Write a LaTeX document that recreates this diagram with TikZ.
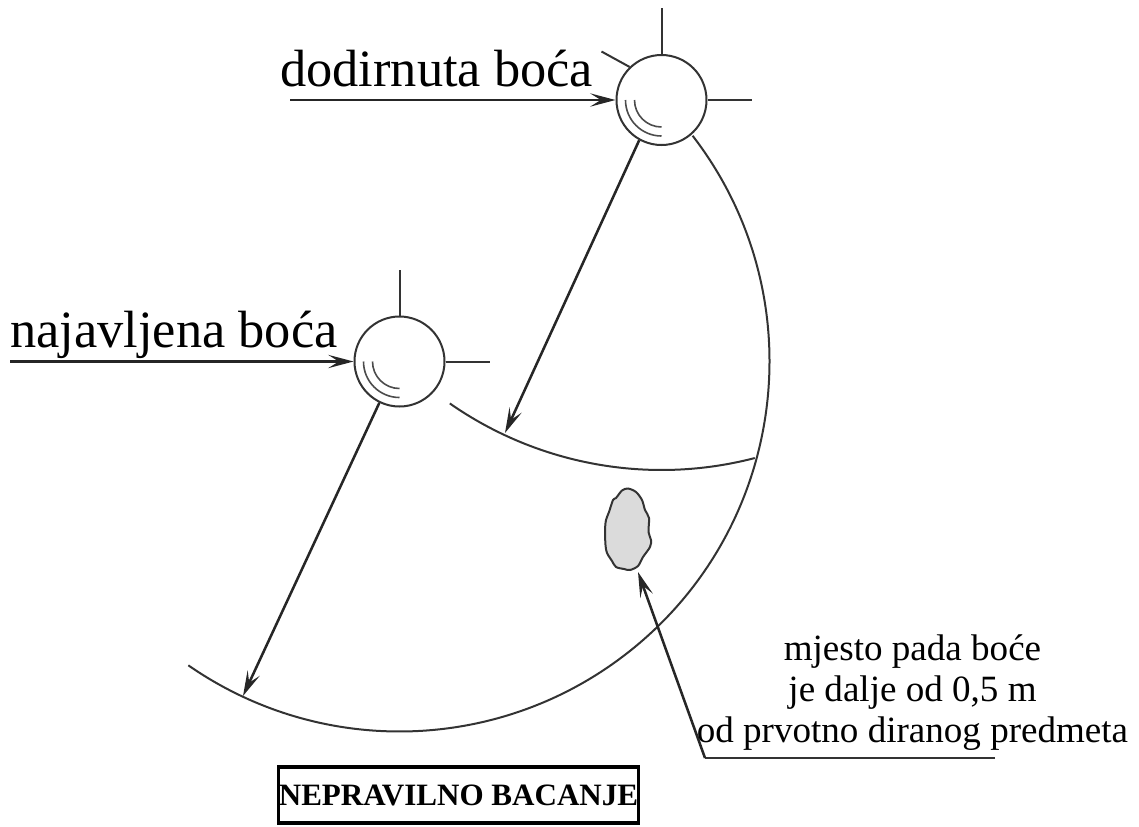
\documentclass[tikz,border=0pt]{standalone}
\usepackage{fontspec}
\setmainfont{Liberation Serif}
\usetikzlibrary{arrows.meta, calc, positioning}

\tikzset{
  linija/.style={line width=1.5pt, draw=black!80},
  strelica/.style={line width=1.9pt, draw=black!85, -{Stealth[length=19pt, width=10pt, inset=8pt]}},
  boca/.style={circle, draw=black!80, line width=1.5pt, minimum size=67.5pt, inner sep=0pt},
  velika/.style={font=\fontsize{39.3}{42}\selectfont, inner sep=0pt, anchor=base west},
  mala/.style={font=\fontsize{27.8}{30.8}\selectfont, inner sep=0pt, align=center},
}

\begin{document}
\begin{tikzpicture}[x=0.75pt,y=0.75pt]
    \useasboundingbox (0,0) rectangle (1139,-826);

    \node[boca] (dodirnuta) at (661.5,-100) {};
    \node[boca] (najavljena) at (399.5,-361.5) {};

    \node[velika] (tekstA) at (280,-86) {dodirnuta boća};
    \node[velika] (tekstB) at (10,-347) {najavljena boća};

    \coordinate (ulazA) at (290,-100);
    \coordinate (ulazB) at (10,-361.5);
    \coordinate (vrhA) at (661.5,-8);
    \coordinate (kosoA) at (601.5,-51.5);
    \coordinate (desnoA) at (752,-100);
    \coordinate (vrhB) at (399.5,-270);
    \coordinate (desnoB) at (490,-361.5);
    \coordinate (padA) at (505,-433);
    \coordinate (padB) at (243,-696);

    \draw[strelica] (ulazA) -- (dodirnuta.west);
    \draw[strelica] (ulazB) -- (najavljena.west);
    \draw[linija] (dodirnuta.north) -- (vrhA);
    \draw[linija] (dodirnuta.134) -- (kosoA);
    \draw[linija] (dodirnuta.east) -- (desnoA);
    \draw[linija] (najavljena.north) -- (vrhB);
    \draw[linija] (najavljena.east) -- (desnoB);
    \draw[strelica] (dodirnuta.241) -- (padA);
    \draw[strelica] (najavljena.244) -- (padB);

    % lukovi
    \draw[linija] ([shift={(37.6:370)}]najavljena.center) arc[start angle=37.6, end angle=-124.8, radius=277.5pt];
    \draw[linija] ([shift={(-124.9:370)}]dodirnuta.center) arc[start angle=-124.9, end angle=-75.4, radius=277.5pt];

    % odsjaj
    \foreach \bocaIme in {dodirnuta,najavljena} {
      \draw[black!70, line width=1.2pt] ([shift={(180:36)}]\bocaIme.center) arc[start angle=180, end angle=270, radius=27pt];
      \draw[black!70, line width=1.2pt] ([shift={(180:27)}]\bocaIme.center) arc[start angle=180, end angle=270, radius=20.25pt];
    }

    % mjesto pada
    \draw[linija, fill=black!14] plot[smooth cycle, tension=0.5] coordinates {
      (628,-488.5) (622,-490.5) (616,-498) (613,-500) (609,-512) (606,-520) (605,-530) (605.5,-545) (607,-553)
      (612,-561) (616,-567) (624,-569) (630,-570) (638,-566) (643,-557) (650,-547) (651,-540) (648.5,-532)
      (649,-518) (645,-510) (642,-500) (636,-492)};
    \coordinate (vrhPad) at (638,-572);
    \coordinate (koljeno) at (705,-758);
    \coordinate (krajLinije) at (995,-758);
    \draw[linija, line width=1pt] (krajLinije) -- (koljeno);
    \draw[strelica] (koljeno) -- (vrhPad);

    \node[mala] (opis) at (912.5,-693) {mjesto pada boće\\je dalje od 0,5 m\\od prvotno diranog predmeta};

    \node[draw=black, line width=2.8pt, minimum width=270pt, minimum height=42pt, inner sep=0pt,
      font=\fontsize{23.3}{25}\selectfont\bfseries] (naslov) at (458.5,-795) {NEPRAVILNO BACANJE};
  \end{tikzpicture}
\end{document}
